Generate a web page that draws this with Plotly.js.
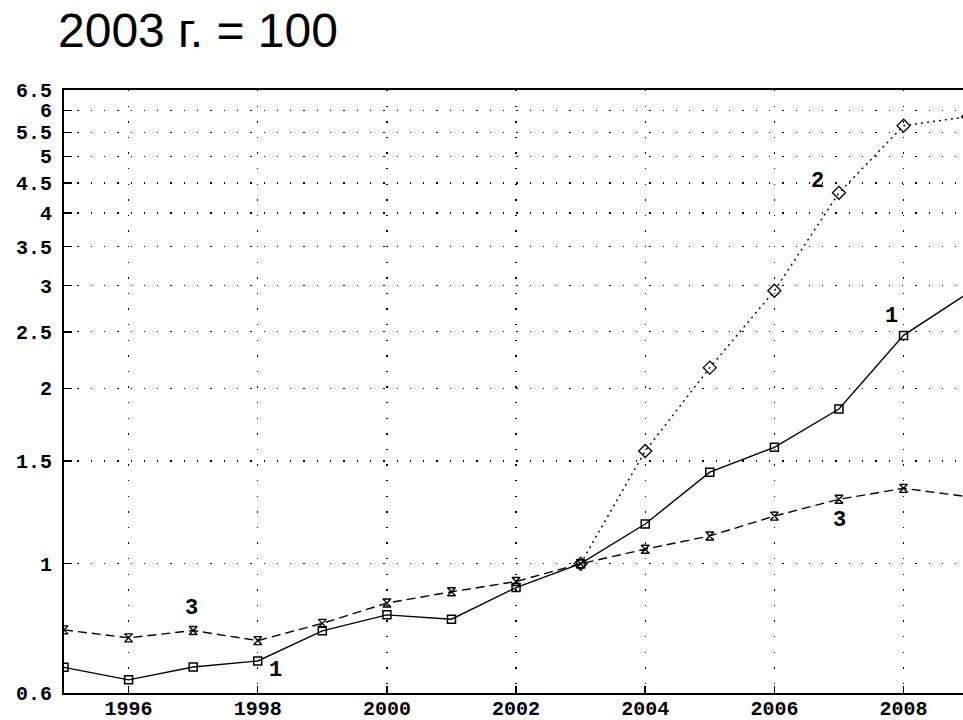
<!DOCTYPE html>
<html>
<head>
<meta charset="utf-8">
<script src="https://cdn.plot.ly/plotly-3.0.1.min.js"></script>
<style>html,body{margin:0;padding:0;background:#fff;}#chart{width:963px;height:720px;}</style>
</head>
<body>
<div id="chart"></div>
<script>
var years = [1995,1996,1997,1998,1999,2000,2001,2002,2003,2004,2005,2006,2007,2008,2009];
var series1 = [0.664,0.632,0.665,0.681,0.767,0.817,0.803,0.910,1.0,1.170,1.436,1.584,1.843,2.465,2.914];
var years2 = [2003,2004,2005,2006,2007,2008,2009];
var series2 = [1.0,1.561,2.170,2.94,4.33,5.645,5.85];
var series3 = [0.770,0.746,0.768,0.738,0.790,0.856,0.895,0.932,1.0,1.059,1.116,1.207,1.290,1.347,1.303];

var yTickVals = [0.6,1,1.5,2,2.5,3,3.5,4,4.5,5,5.5,6,6.5];
var yTickText = ['0.6','1','1.5','2','2.5','3','3.5','4','4.5','5','5.5','6','6.5'];
var xTickVals = [1996,1998,2000,2002,2004,2006,2008];

var labelText = ['2','1','3','3','1'];
var labelX = [2006.66,2007.81,2007.01,1996.97,1998.28];
var labelY = [4.52,2.654,1.185,0.839,0.655];

var titleText = '2003 г. = 100';

var monoFont = {family:'Liberation Mono', size:20, color:'#000', weight:'bold'};

var traces = [
  {x: years, y: series1, mode:'lines+markers', line:{color:'#000', width:1.4, dash:'solid'},
   marker:{symbol:'square-open', size:8, color:'#000', line:{width:1.5}}, showlegend:false},
  {x: years2, y: series2, mode:'lines+markers', line:{color:'#000', width:1.4, dash:'2px,4px'},
   marker:{symbol:'diamond-open', size:10, color:'#000', line:{width:1.3}}, showlegend:false},
  {x: years, y: series3, mode:'lines+markers', line:{color:'#000', width:1.4, dash:'9px,5px'},
   marker:{symbol:'hourglass-open', size:8, color:'#000', line:{width:1.4}}, showlegend:false}
];

var annotations = labelText.map(function(t,i){
  return {x:labelX[i], y:Math.log10(labelY[i]), xref:'x', yref:'y', text:t, showarrow:false,
          font:{family:'Liberation Mono', size:22, color:'#000', weight:'bold'}};
});
annotations.push({x:(56-64)/899, y:1 + (90-31)/603, xref:'paper', yref:'paper', text:titleText, showarrow:false,
  xanchor:'left', yanchor:'middle', font:{family:'Liberation Sans, Arial', size:48, color:'#000'}});

var layout = {
  width:963, height:720,
  margin:{l:64, r:0, t:90, b:27, pad:0},
  paper_bgcolor:'#fff', plot_bgcolor:'#fff',
  xaxis:{range:[1995, 1995+899/64.58], tickvals:xTickVals, ticktext:xTickVals.map(String),
    showline:true, linecolor:'#000', linewidth:2, mirror:true,
    ticks:'inside', ticklen:7, tickwidth:1.5, tickcolor:'#000', ticklabelstandoff:-4,
    showgrid:true, gridcolor:'#000', gridwidth:1.3, griddash:'1.3px,14.3px',
    zeroline:false, tickfont:monoFont},
  yaxis:{type:'log', range:[Math.log10(0.6), Math.log10(6.5)], tickvals:yTickVals, ticktext:yTickText,
    showline:true, linecolor:'#000', linewidth:2, mirror:false,
    ticks:'inside', ticklen:8, tickwidth:1.5, tickcolor:'#000', ticklabelstandoff:6,
    showgrid:true, gridcolor:'#000', gridwidth:1.3, griddash:'1.3px,12px',
    zeroline:false, tickfont:monoFont},
  annotations:annotations,
  showlegend:false
};

Plotly.newPlot('chart', traces, layout, {displayModeBar:false, staticPlot:true});
</script>
</body>
</html>
